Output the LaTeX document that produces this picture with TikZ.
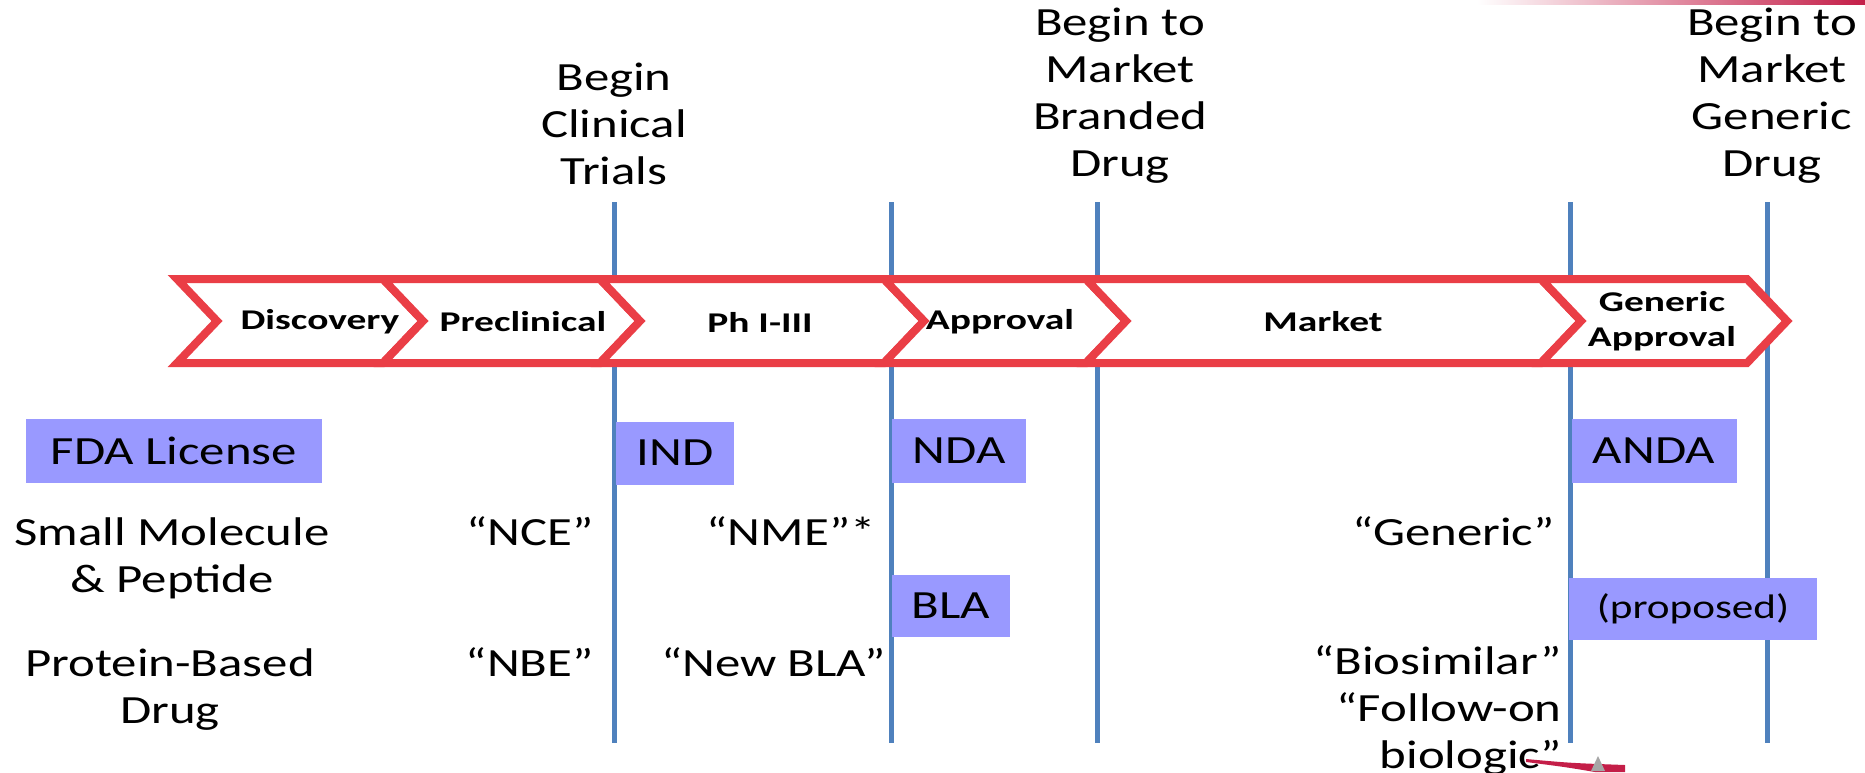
\documentclass[tikz,border=0pt]{standalone}
\usepackage{fontspec}
\setmainfont{Carlito}[FakeStretch=1.27]
\newfontfamily\chevfont{Carlito}[FakeStretch=1.38]
\usepackage{tikz}
\usetikzlibrary{positioning}

\definecolor{chevred}{RGB}{234,62,70}
\definecolor{lineblue}{RGB}{79,129,189}
\definecolor{boxblue}{RGB}{153,153,255}
\definecolor{swoosh}{RGB}{196,30,72}

\begin{document}
\begin{tikzpicture}[
  x=0.5pt, y=-0.5pt,
  every node/.style={font=\fontsize{20}{23.5}\selectfont, inner sep=0pt},
  stage/.style={font=\chevfont\bfseries\fontsize{14.3}{17.5}\selectfont, align=center},
  chev/.style={draw=chevred, line width=4pt, fill=white, line join=miter},
  milestone/.style={draw=lineblue, line width=2.5pt},
  filing/.style={fill=boxblue, text=black},
  note/.style={align=center},
  quote/.style={anchor=base east}
]
\useasboundingbox (0,0) rectangle (1865,772);

% milestones
\foreach \x in {614,891,1097,1570,1767}
  \draw[milestone] (\x,202) -- (\x,743);

% stages
\foreach \l/\r in {177/383,383/600,600/884,884/1086,1086/1541,1541/1747}
  \draw[chev] (\l,279) -- (\r,279) -- (\r+40,321) -- (\r,363) -- (\l,363) -- (\l+40,321) -- cycle;

\node[stage] (discovery) at (320,322) {Discovery};
\node[stage] (preclinical) at (523,322) {Preclinical};
\node[stage] (phase) at (760,322) {Ph I-III};
\node[stage] (approval) at (1000,322) {Approval};
\node[stage] (market) at (1323,322) {Market};
\node[stage] (genappr) at (1662,321) {Generic\\Approval};

% events above the timeline
\node[note, anchor=base] (clinical) at (614,184) {Begin\\Clinical\\Trials};
\node[note, anchor=base] (branded) at (1120,176) {Begin to\\Market\\Branded\\Drug};
\node[note, anchor=base] (genmarket) at (1772,176) {Begin to\\Market\\Generic\\Drug};

% filings
\node[filing, minimum width=148pt, minimum height=32pt] (fda) at (174,451) {FDA License};
\node[filing, minimum width=59pt, minimum height=31.5pt] (ind) at (675,453) {IND};
\node[filing, minimum width=67pt, minimum height=32pt] (nda) at (959,451) {NDA};
\node[filing, minimum width=82.5pt, minimum height=32pt] (anda) at (1654,451) {ANDA};
\node[filing, minimum width=59pt, minimum height=31pt] (bla) at (951,606) {BLA};
\node[filing, minimum width=124pt, minimum height=31pt, font=\fontsize{17}{20}\selectfont] (proposed) at (1693,609) {(proposed)};

% drug classes
\node[note, anchor=base] (small) at (172,592) {Small Molecule\\\& Peptide};
\node[note, anchor=base] (protein) at (170,723) {Protein-Based\\Drug};

\node[quote] (nce) at (594,545) {“NCE”};
\node[quote] (nme) at (876,545) {“NME”*};
\node[quote] (genq) at (1555,545) {“Generic”};
\node[quote] (nbe) at (594,676) {“NBE”};
\node[quote] (newbla) at (886,676) {“New BLA”};
\node[note, align=right, anchor=base east] (biosim) at (1562,768) {“Biosimilar”\\“Follow-on\hspace*{13.5pt}\\biologic”};

% slide leftovers
\shade[left color=white, right color=swoosh] (1477,0) rectangle (1865,4);
\fill[swoosh] (1526,759) .. controls (1570,763) .. (1625,765) -- (1625,772) -- (1595,772) .. controls (1565,767) .. (1526,762) -- cycle;
\fill[black!35] (1591,771) -- (1598,756) -- (1605,771) -- cycle;

\end{tikzpicture}
\end{document}
